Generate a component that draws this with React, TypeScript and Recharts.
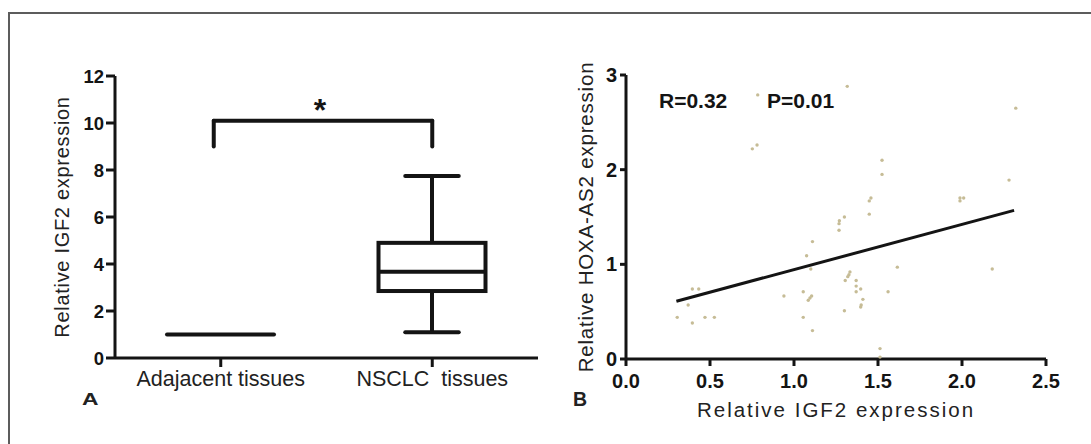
import React from 'react';
import { ComposedChart, ScatterChart, Bar, Scatter, XAxis, YAxis, ReferenceLine, Label } from 'recharts';

// ---- Panel A: box plot ----
const groups = ['Adajacent tissues', 'NSCLC\u00a0 tissues'];
const boxMin = [1, 1.1];
const boxQ1 = [1, 2.85];
const boxMedian = [1, 3.67];
const boxQ3 = [1, 4.9];
const boxMax = [1, 7.75];
const yTicksA = [0, 2, 4, 6, 8, 10, 12];
const bracketTop = 10.1;
const bracketLeg = 9.0;

// ---- Panel B: scatter ----
const igf2 = [
  1.317, 0.784, 0.752, 0.78, 1.27, 1.268, 1.3, 1.268, 1.11, 1.075,
  1.1, 0.94, 1.055, 1.085, 1.095, 1.105, 1.055, 1.11, 0.305, 0.395,
  0.433, 0.37, 0.395, 0.47, 0.526, 1.3, 1.333, 1.327, 1.32, 1.305,
  2.32, 1.524, 1.524, 2.28, 1.458, 1.448, 1.448, 1.988, 1.988, 2.01,
  1.615, 2.18, 1.37, 1.37, 1.397, 1.37, 1.56, 1.41, 1.4, 1.397,
  1.512, 1.512,
];
const hoxa = [
  2.88, 2.79, 2.22, 2.26, 1.46, 1.43, 1.5, 1.36, 1.24, 1.09,
  0.95, 0.665, 0.71, 0.62, 0.645, 0.665, 0.44, 0.3, 0.44, 0.74,
  0.74, 0.57, 0.38, 0.44, 0.44, 0.51, 0.92, 0.89, 0.87, 0.83,
  2.65, 2.1, 1.95, 1.89, 1.7, 1.67, 1.53, 1.7, 1.67, 1.7,
  0.97, 0.95, 0.83, 0.77, 0.74, 0.71, 0.71, 0.63, 0.57, 0.55,
  0.11, 0.02,
];
const xTicksB = [0, 0.5, 1, 1.5, 2, 2.5];
const yTicksB = [0, 1, 2, 3];
const fitX = [0.3, 2.31];
const fitY = [0.61, 1.57];

const INK = '#141414';
const TEXT = '#222';
const FONT = '"Liberation Sans", Arial, Helvetica, sans-serif';

const boxData = groups.map((g, i) => ({
  name: g,
  min: boxMin[i],
  q1: boxQ1[i],
  median: boxMedian[i],
  q3: boxQ3[i],
  max: boxMax[i],
}));

const scatterData = igf2.map((x, i) => ({ x, y: hoxa[i] }));

const BoxShape = (props: any) => {
  const { x, y, width, height, payload } = props;
  if (x == null || y == null || !payload) return null;
  const top = Math.min(y, y + (height || 0));
  const h = Math.abs(height || 0);
  const { min, q1, median, q3, max } = payload;
  const span = max - min;
  const sw = 4;
  if (span === 0 || h === 0) {
    return (
      <g>
        <line x1={x} x2={x + width} y1={top} y2={top} stroke={INK} strokeWidth={sw} strokeLinecap="round" />
      </g>
    );
  }
  const py = (v: number) => top + (h * (max - v)) / span;
  const cx = x + width / 2;
  const capHalf = width / 4;
  return (
    <g>
      <line x1={cx} x2={cx} y1={py(max)} y2={py(q3)} stroke={INK} strokeWidth={sw} />
      <line x1={cx} x2={cx} y1={py(q1)} y2={py(min)} stroke={INK} strokeWidth={sw} />
      <line x1={cx - capHalf} x2={cx + capHalf} y1={py(max)} y2={py(max)} stroke={INK} strokeWidth={sw} strokeLinecap="round" />
      <line x1={cx - capHalf} x2={cx + capHalf} y1={py(min)} y2={py(min)} stroke={INK} strokeWidth={sw} strokeLinecap="round" />
      <rect x={x} y={py(q3)} width={width} height={py(q1) - py(q3)} fill="none" stroke={INK} strokeWidth={sw} />
      <line x1={x} x2={x + width} y1={py(median)} y2={py(median)} stroke={INK} strokeWidth={sw} />
    </g>
  );
};

// bracket segment whose left-group end sits a little left of the group centre
const makeBracketShape = (shiftStart: number, shiftEnd: number) => (props: any) => {
  const { x1, y1, x2, y2 } = props;
  if (x1 == null || y1 == null) return null;
  return (
    <line
      x1={x1 + shiftStart}
      y1={y1}
      x2={x2 + shiftEnd}
      y2={y2}
      stroke={INK}
      strokeWidth={4}
      strokeLinecap="round"
    />
  );
};

const Dot = (props: any) => {
  const { cx, cy } = props;
  if (cx == null || cy == null) return null;
  return <circle cx={cx} cy={cy} r={1.7} fill="#c6bc96" />;
};

export default function App() {
  return (
    <div
      style={{
        position: 'absolute',
        left: 0,
        top: 0,
        width: 1091,
        height: 444,
        overflow: 'hidden',
        background: '#fff',
        fontFamily: FONT,
      }}
    >
      <div
        style={{
          position: 'absolute',
          left: 8,
          top: 12,
          width: 1200,
          height: 600,
          borderTop: '2px solid #5c5c5c',
          borderLeft: '2px solid #5c5c5c',
        }}
      />
      <div style={{ position: 'absolute', left: 0, top: 0 }}>
        <ComposedChart
          width={560}
          height={444}
          data={boxData}
          margin={{ top: 76, right: 22, bottom: 46, left: 9 }}
          barCategoryGap={0}
        >
          <XAxis
            dataKey="name"
            type="category"
            height={40}
            interval={0}
            tickSize={9}
            tickMargin={4}
            axisLine={{ stroke: INK, strokeWidth: 3 }}
            tickLine={{ stroke: INK, strokeWidth: 3 }}
            tick={{ fontSize: 21.5, fill: TEXT, fontFamily: FONT }}
          />
          <YAxis
            type="number"
            domain={[0, 12]}
            ticks={yTicksA}
            width={106}
            interval={0}
            tickSize={9}
            tickMargin={2}
            axisLine={{ stroke: INK, strokeWidth: 3 }}
            tickLine={{ stroke: INK, strokeWidth: 3 }}
            tick={{ fontSize: 18.5, fontWeight: 'bold', fill: INK, fontFamily: FONT }}
          >
            <Label
              value="Relative IGF2 expression"
              angle={-90}
              position="center"
              style={{ fontSize: 20, fill: TEXT, letterSpacing: 0.7, fontFamily: FONT }}
            />
          </YAxis>
          <Bar
            dataKey={(d: any) => [d.min, d.max]}
            barSize={107}
            shape={BoxShape}
            isAnimationActive={false}
          />
          <ReferenceLine
            segment={[{ x: groups[0], y: bracketTop }, { x: groups[1], y: bracketTop }]}
            stroke={INK}
            strokeWidth={4}
            shape={makeBracketShape(-7, 0)}
          />
          <ReferenceLine
            segment={[{ x: groups[0], y: bracketTop }, { x: groups[0], y: bracketLeg }]}
            stroke={INK}
            strokeWidth={4}
            shape={makeBracketShape(-7, -7)}
          />
          <ReferenceLine
            segment={[{ x: groups[1], y: bracketTop }, { x: groups[1], y: bracketLeg }]}
            stroke={INK}
            strokeWidth={4}
            shape={makeBracketShape(0, 0)}
          />
        </ComposedChart>
      </div>
      <div style={{ position: 'absolute', left: 545, top: 0 }}>
        <ScatterChart width={546} height={444} margin={{ top: 75, right: 45, bottom: 0, left: 0 }}>
          <XAxis
            type="number"
            dataKey="x"
            domain={[0, 2.5]}
            ticks={xTicksB}
            interval={0}
            height={85}
            tickSize={7}
            tickMargin={8}
            tickFormatter={(v: number) => v.toFixed(1)}
            axisLine={{ stroke: INK, strokeWidth: 3 }}
            tickLine={{ stroke: INK, strokeWidth: 3 }}
            tick={{ fontSize: 20, fontWeight: 'bold', fill: INK, fontFamily: FONT }}
          >
            <Label
              value="Relative IGF2 expression"
              position="insideBottom"
              offset={27}
              style={{ fontSize: 20.5, fill: TEXT, letterSpacing: 2, fontFamily: FONT }}
            />
          </XAxis>
          <YAxis
            type="number"
            dataKey="y"
            domain={[0, 3]}
            ticks={yTicksB}
            interval={0}
            width={81}
            tickSize={6}
            tickMargin={3}
            axisLine={{ stroke: INK, strokeWidth: 3 }}
            tickLine={{ stroke: INK, strokeWidth: 3 }}
            tick={{ fontSize: 20, fontWeight: 'bold', fill: INK, fontFamily: FONT }}
          >
            <Label
              value="Relative HOXA-AS2 expression"
              angle={-90}
              position="center"
              style={{ fontSize: 20.5, fill: TEXT, letterSpacing: 0.8, fontFamily: FONT }}
            />
          </YAxis>
          <Scatter data={scatterData} shape={Dot} isAnimationActive={false} />
          <ReferenceLine
            segment={[{ x: fitX[0], y: fitY[0] }, { x: fitX[1], y: fitY[1] }]}
            stroke={INK}
            strokeWidth={3}
          />
        </ScatterChart>
      </div>
      <svg
        width={1091}
        height={444}
        style={{ position: 'absolute', left: 0, top: 0, pointerEvents: 'none' }}
      >
        <text x={320} y={121} textAnchor="middle" fontSize={32} fontWeight="bold" fill={INK} fontFamily={FONT}>*</text>
        <text x={82} y={405} fontSize={17} fontWeight="bold" fill={TEXT} fontFamily={FONT} textLength={16.5} lengthAdjust="spacingAndGlyphs">A</text>
        <text x={573} y={406} fontSize={19.5} fontWeight="bold" fill={TEXT} fontFamily={FONT}>B</text>
        <text x={659} y={108} fontSize={21} fontWeight="bold" fill={INK} fontFamily={FONT}>R=0.32</text>
        <text x={767} y={108} fontSize={21} fontWeight="bold" fill={INK} fontFamily={FONT}>P=0.01</text>
      </svg>
    </div>
  );
}
